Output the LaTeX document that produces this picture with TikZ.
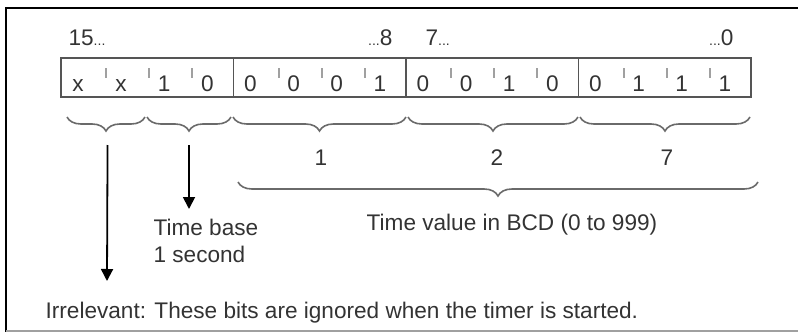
\documentclass[tikz,border=0pt]{standalone}
\usepackage{fontspec}
\setmainfont{Liberation Sans}
\usetikzlibrary{arrows.meta,decorations.pathreplacing}

\definecolor{ink}{HTML}{333333}
\definecolor{boxgray}{HTML}{555555}
\definecolor{tickgray}{HTML}{A0A0A0}
\definecolor{bracegray}{HTML}{6A6A6A}

\newcommand{\bitdots}{{\fontsize{7}{8}\selectfont...}}

\begin{document}
\begin{tikzpicture}[x=0.5pt,y=-0.5pt,>={Triangle[length=6pt,width=6pt]},semithick,
	font=\fontsize{11.3}{13.5}\selectfont]
	\tikzset{every node/.style={inner sep=0pt,text=ink},
		bit/.style={anchor=base},
		tick/.style={draw=tickgray,line width=0.9pt},
		brace/.style={draw=bracegray,line width=0.8pt,decorate,decoration={brace,mirror,amplitude=7pt}},
		pointer/.style={->,line width=0.9pt,black}}

	\useasboundingbox (0,0) rectangle (798,332);
	\draw[black,line width=1.2pt] (6,332) -- (6,8) -- (798,8);
	\draw[tickgray,line width=1pt] (6,331) -- (798,331);

	% the 16 bits
	\draw[boxgray,line width=0.9pt] (61,58) rectangle (751,97);
	\foreach \k in {1,2,3}
		\draw[boxgray,line width=0.9pt] (61+172.5*\k,58) -- (61+172.5*\k,97);
	\foreach \b [count=\i from 0] in {x,x,1,0,0,0,0,1,0,0,1,0,0,1,1,1}
		\node[bit] (b\i) at (78+43.125*\i,91) {\b};
	\foreach \i in {1,2,3,5,6,7,9,10,11,13,14,15}
		\draw[tick] (63+43.125*\i,68) -- ++(0,10);

	\node[anchor=base west] (hi) at (68,45) {15\bitdots};
	\node[anchor=base east] (hilow) at (393,45) {\bitdots8};
	\node[anchor=base west] (lohigh) at (425,45) {7\bitdots};
	\node[anchor=base east] (lo) at (734,45) {\bitdots0};

	% braces under the bits
	\draw[brace] (67,117) -- coordinate[pos=0.52] (irr) (145,117);
	\draw[brace] (147,117) -- coordinate[pos=0.5] (base) (231,117);
	\draw[brace] (233,117) -- (406,117);
	\draw[brace] (408,117) -- (578,117);
	\draw[brace] (580,117) -- (750,117);
	\draw[brace] (238,182) -- (758,182);

	\node[bit] (hundreds) at (321,165) {1};
	\node[bit] (tens) at (497,165) {2};
	\node[bit] (ones) at (667,165) {7};

	\node[anchor=base] (bcd) at (512,230) {Time value in BCD (0 to 999)};
	\node[anchor=north west,align=left] (tb) at (153,219) {Time base\\1 second};
	\node[anchor=base west] (ign) at (45,318) {Irrelevant: These bits are ignored when the timer is started.};

	\coordinate (irrend) at (107,281);
	\draw[pointer] (irr) ++(0,28) -- (irrend);
	\draw[pointer,shorten >=5pt] (base) ++(0,28) -- (base |- tb.north);
\end{tikzpicture}
\end{document}
